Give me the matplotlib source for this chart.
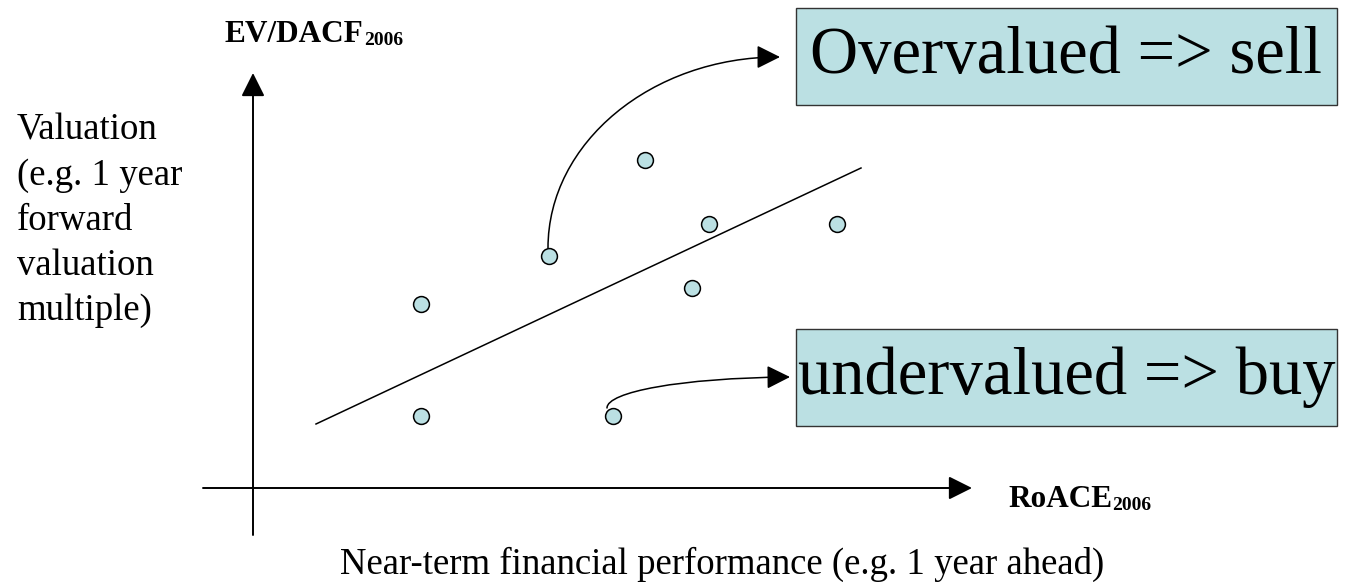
import matplotlib.pyplot as plt
from matplotlib.patches import FancyArrowPatch, Rectangle
from matplotlib.path import Path

# Companies: near-term performance (RoACE) vs valuation (EV/DACF)
roace = [3.35, 3.35, 5.91, 7.83, 9.11, 8.79, 11.67, 7.19]
ev_dacf = [3.69, 1.44, 4.64, 6.56, 5.28, 4.0, 5.28, 1.44]

# Trend line end points
trend_x = [1.26, 12.16]
trend_y = [1.28, 6.4]

box_labels = ["Overvalued => sell", "undervalued => buy"]
x_title = "Near-term financial performance (e.g. 1 year ahead)"
y_title = "Valuation\n(e.g. 1 year\nforward\nvaluation\nmultiple)"

fill = '#bbe0e3'
serif = 'Liberation Serif'
head = '-|>,head_length=0.72,head_width=0.36'

fig = plt.figure(figsize=(13.5, 5.82), dpi=100)
ax = fig.add_axes([0, 0, 1, 1])
ax.set_xlim(-5.06, 21.94)
ax.set_ylim(-1.88, 9.76)
ax.axis('off')


def arrow(posA, posB):
    a = FancyArrowPatch(posA, posB, arrowstyle=head, mutation_scale=20,
                        shrinkA=0, shrinkB=0, lw=1.4, color='black')
    ax.add_patch(a)


# Axes with arrow heads
arrow((0, -0.94), (0, 8.3))
arrow((-1, 0), (14.38, 0))

# Trend line and points
ax.plot(trend_x, trend_y, color='black', lw=1.1)
ax.scatter(roace, ev_dacf, s=130, facecolor=fill, edgecolor='black', linewidth=1.1, zorder=3)

# Curved callout arrows (cubic bezier)
curves = [
    [(5.9, 4.8), (5.9, 6.91), (7.98, 8.62), (10.54, 8.62)],
    [(7.08, 1.6), (7.08, 1.92), (8.54, 2.2), (10.74, 2.22)],
]
for pts in curves:
    p = Path(pts, [Path.MOVETO, Path.CURVE4, Path.CURVE4, Path.CURVE4])
    ax.add_patch(FancyArrowPatch(path=p, arrowstyle=head, mutation_scale=20,
                                 lw=1.1, color='black', zorder=2))

# Label boxes
box_bottoms = [7.66, 1.24]
for lab, yb in zip(box_labels, box_bottoms):
    ax.add_patch(Rectangle((10.86, yb), 10.82, 1.95, facecolor=fill, edgecolor='#333333', lw=1.0))
    ax.text(16.27, yb + 0.975, lab, ha='center', va='center', fontsize=48, family=serif)

# Axis labels
t = ax.text(-0.56, 8.92, "EV/DACF", fontsize=22.5, fontweight='bold', family=serif, va='baseline')
ax.annotate("2006", xy=(1, 0), xycoords=t, va='bottom', fontsize=14, fontweight='bold', family=serif)
t2 = ax.text(15.1, -0.38, "RoACE", fontsize=22.5, fontweight='bold', family=serif, va='baseline')
ax.annotate("2006", xy=(1, 0), xycoords=t2, va='bottom', fontsize=14, fontweight='bold', family=serif)

# baseline alignment refers to the last line here
ax.text(-4.72, 3.36, y_title, ha='left', va='baseline', fontsize=26.5, family=serif, linespacing=1.4)
ax.text(1.74, -1.72, x_title, ha='left', va='baseline', fontsize=26.5, family=serif)

fig.savefig('out.png', dpi=100)
